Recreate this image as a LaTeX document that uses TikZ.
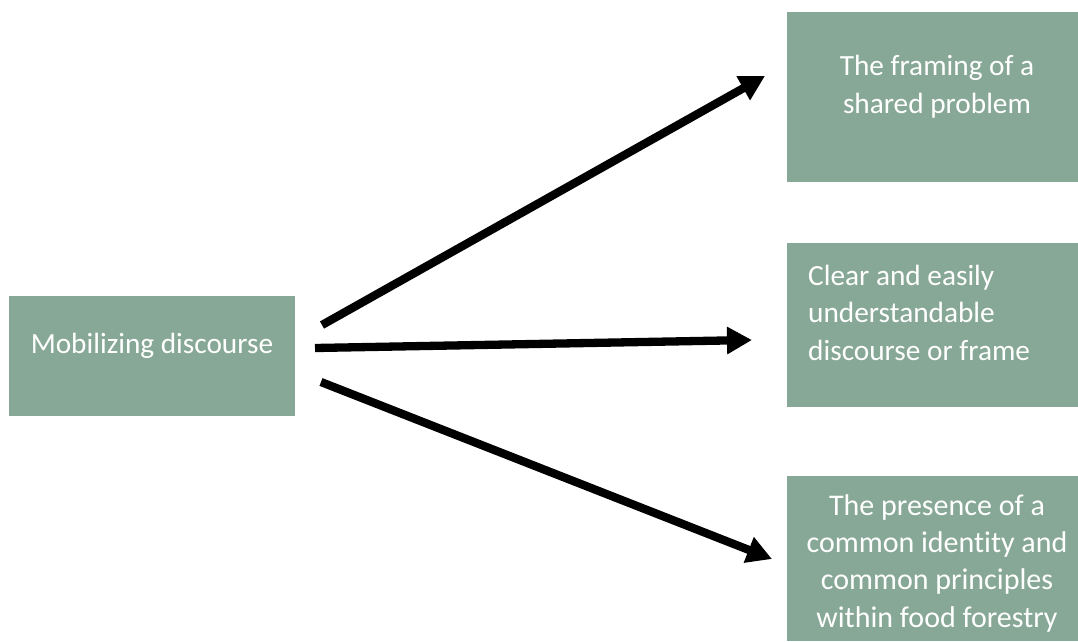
\documentclass[tikz,border=0pt]{standalone}
\usepackage{fontspec}
\setmainfont{Carlito}[Ligatures={NoCommon}]
\usetikzlibrary{arrows.meta}
\definecolor{boxgreen}{HTML}{87A896}
\tikzset{
  box/.style={fill=boxgreen, draw=none, inner sep=0pt, anchor=north west},
  boxtext/.style={text=white, inner sep=0pt, font=\fontsize{29.3}{37.3}\selectfont},
  conn/.style={line width=8.3pt, -{Triangle[length=25pt,width=26pt]}, black}
}
\begin{document}
\begin{tikzpicture}[x=1pt,y=-1pt]
\useasboundingbox (0,0) rectangle (1078,641);
\node[box, minimum width=286pt, minimum height=120pt] (src) at (9,296) {};
\node[box, minimum width=291pt, minimum height=170pt] (t1) at (787,12) {};
\node[box, minimum width=291pt, minimum height=164pt] (t2) at (787,243) {};
\node[box, minimum width=291pt, minimum height=165pt] (t3) at (787,476) {};
\node[boxtext, anchor=base] (srctext) at (152,353) {Mobilizing discourse};
\node[boxtext, anchor=base, align=center] (t1text) at (937,113) {The framing of a\\shared problem};
\node[boxtext, anchor=base west, align=left] (t2text) at (808,360) {Clear and easily\\understandable\\discourse or frame};
\node[boxtext, anchor=base, align=center, font=\fontsize{30}{37.3}\selectfont] (t3text) at (937,627) {The presence of a\\common identity and\\common principles\\within food forestry};
\coordinate (s1) at (322,325);
\coordinate (e1) at (765,76);
\coordinate (s2) at (315,348);
\coordinate (e2) at (752,340);
\coordinate (s3) at (321,382);
\coordinate (e3) at (772,559);
\draw[conn] (s1) -- (e1);
\draw[conn] (s2) -- (e2);
\draw[conn] (s3) -- (e3);
\end{tikzpicture}
\end{document}
